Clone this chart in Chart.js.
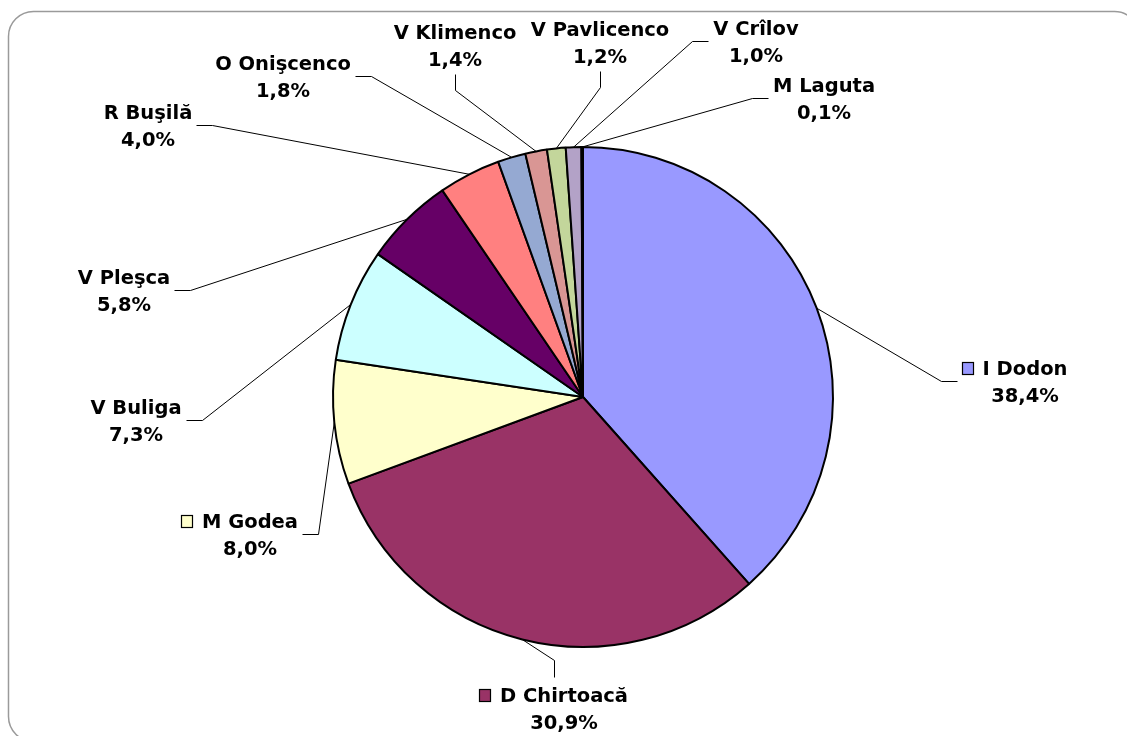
<!DOCTYPE html>
<html>
<head>
<meta charset="utf-8">
<script src="https://cdn.jsdelivr.net/npm/chart.js@4/dist/chart.umd.min.js"></script>
<style>
  html, body { margin: 0; padding: 0; background: #ffffff; }
  #wrap { position: relative; width: 1127px; height: 736px; }
  canvas { display: block; }
</style>
</head>
<body>
<div id="wrap"><canvas id="c" width="1127" height="736"></canvas></div>
<script>
// ---- data ----
const categories = ["I Dodon", "D Chirtoacă", "M Godea", "V Buliga", "V Pleşca", "R Buşilă",
                    "O Onişcenco", "V Klimenco", "V Pavlicenco", "V Crîlov", "M Laguta"];
const shares = [38.4, 30.9, 8.0, 7.3, 5.8, 4.0, 1.8, 1.4, 1.2, 1.0, 0.1];
const valueLabels = ["38,4%", "30,9%", "8,0%", "7,3%", "5,8%", "4,0%", "1,8%", "1,4%", "1,2%", "1,0%", "0,1%"];
const showKey = [true, true, true, false, false, false, false, false, false, false, false];

// ---- styles / layout (not data) ----
const sliceColors = ["#9999FF", "#993366", "#FFFFCC", "#CCFFFF", "#660066", "#FF8080",
                     "#95A9D2", "#D99694", "#C3D69B", "#B3A2C7", "#93CDDD"];
// label anchor: [centre x of text, baseline of first line, side where the leader attaches]
const labelLayout = [
  [1025, 375, "left"],
  [564, 702, "top"],
  [250, 528, "right"],
  [136, 414, "right"],
  [124, 284, "right"],
  [148, 119, "right"],
  [283, 70, "right"],
  [455, 39, "bottom"],
  [600, 36, "bottom"],
  [756, 35, "left"],
  [824, 92, "left"]
];
const FONT = "bold 19.5px 'DejaVu Sans', Verdana, sans-serif";
const LINE_GAP = 27;

const framePlugin = {
  id: "frame",
  beforeDraw(chart) {
    const ctx = chart.ctx;
    ctx.save();
    ctx.fillStyle = "#ffffff";
    ctx.fillRect(0, 0, chart.width, chart.height);
    const x = 8.5, y = 11.5, w = 1131, h = 730, r = 25;
    ctx.beginPath();
    ctx.moveTo(x + r, y);
    ctx.lineTo(x + w - r, y);
    ctx.arcTo(x + w, y, x + w, y + r, r);
    ctx.lineTo(x + w, y + h - r);
    ctx.arcTo(x + w, y + h, x + w - r, y + h, r);
    ctx.lineTo(x + r, y + h);
    ctx.arcTo(x, y + h, x, y + h - r, r);
    ctx.lineTo(x, y + r);
    ctx.arcTo(x, y, x + r, y, r);
    ctx.closePath();
    ctx.strokeStyle = "#9a9a9a";
    ctx.lineWidth = 1.5;
    ctx.stroke();
    ctx.restore();
  }
};

const labelPlugin = {
  id: "labels",
  afterDraw(chart) {
    const ctx = chart.ctx;
    const meta = chart.getDatasetMeta(0);
    const px = v => Math.round(v) + 0.5;
    ctx.save();
    ctx.font = FONT;
    ctx.textAlign = "center";
    ctx.textBaseline = "alphabetic";
    const capH = 14.2;
    meta.data.forEach((arc, i) => {
      const [cx, base, side] = labelLayout[i];
      const name = categories[i];
      const val = valueLabels[i];
      const nameW = ctx.measureText(name).width;
      const valW = ctx.measureText(val).width;
      const keySize = 12, keyGap = 9;
      let left = Math.min(cx - nameW / 2, cx - valW / 2);
      const right = Math.max(cx + nameW / 2, cx + valW / 2);
      if (showKey[i]) left = Math.min(left, cx - nameW / 2 - keyGap - keySize);
      const top = base - capH;
      const bottom = base + LINE_GAP;
      const midY = (top + bottom) / 2;

      // leader line
      const p = arc.getProps(["x", "y", "startAngle", "endAngle", "outerRadius"], true);
      const a = (p.startAngle + p.endAngle) / 2;
      const sx = p.x + Math.cos(a) * p.outerRadius;
      const sy = p.y + Math.sin(a) * p.outerRadius;
      let ex, ey, kx, ky;
      if (side === "left") { ex = left - 5; ey = midY; kx = ex - 16; ky = ey; }
      else if (side === "right") { ex = right + 4; ey = midY; kx = ex + 16; ky = ey; }
      else if (side === "bottom") { ex = cx; ey = bottom + 8; kx = ex; ky = ey + 16; }
      else { ex = (left + right) / 2; ey = top - 11; kx = ex; ky = ey - 17; }
      ctx.beginPath();
      ctx.moveTo(sx, sy);
      ctx.lineTo(px(kx), px(ky));
      ctx.lineTo(px(ex), px(ey));
      ctx.strokeStyle = "#000000";
      ctx.lineWidth = 1;
      ctx.stroke();

      // texts
      ctx.fillStyle = "#000000";
      ctx.fillText(name, cx, base);
      ctx.fillText(val, cx, base + LINE_GAP);

      // legend key
      if (showKey[i]) {
        const kx0 = Math.round(cx - nameW / 2 - keyGap - keySize) + 0.5;
        const ky0 = Math.round(base - 13) + 0.5;
        ctx.fillStyle = sliceColors[i];
        ctx.fillRect(kx0, ky0, keySize - 1, keySize);
        ctx.strokeStyle = "#000000";
        ctx.lineWidth = 1.2;
        ctx.strokeRect(kx0, ky0, keySize - 1, keySize);
      }
    });
    ctx.restore();
  }
};

new Chart(document.getElementById("c"), {
  type: "pie",
  data: {
    labels: categories,
    datasets: [{
      data: shares,
      backgroundColor: sliceColors,
      borderColor: "#000000",
      borderWidth: 2,
      hoverOffset: 0
    }]
  },
  options: {
    responsive: false,
    animation: false,
    events: [],
    layout: { padding: { left: 332, right: 293, top: 146, bottom: 88 } },
    plugins: {
      legend: { display: false },
      tooltip: { enabled: false }
    }
  },
  plugins: [framePlugin, labelPlugin]
});
</script>
</body>
</html>
